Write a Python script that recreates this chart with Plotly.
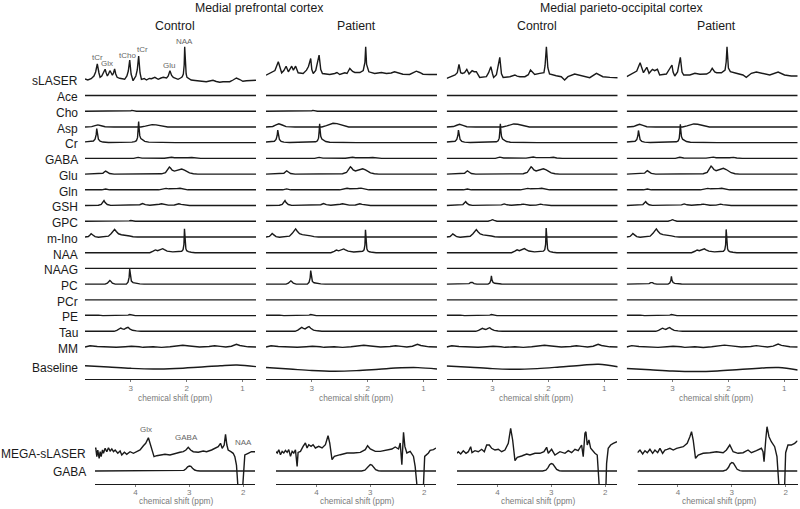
import plotly.graph_objects as go

# ---------------- data ----------------
REGION_TITLES = ["Medial prefrontal cortex", "Medial parieto-occipital cortex"]
PANEL_TITLES = ["Control", "Patient", "Control", "Patient"]
ROW_LABELS = ["sLASER", "Ace", "Cho", "Asp", "Cr", "GABA", "Glu", "Gln", "GSH", "GPC",
              "m-Ino", "NAA", "NAAG", "PC", "PCr", "PE", "Tau", "MM", "Baseline"]
BOTTOM_LABELS = ["MEGA-sLASER", "GABA"]
TOP_TICKS = [3, 2, 1]
BOTTOM_TICKS = [4, 3, 2]
X_TITLE = "chemical shift (ppm)"
TOP_PEAK_LABELS = [("tCr", 3.60, 58), ("Glx", 3.43, 63), ("tCho", 3.06, 55),
                   ("tCr", 2.80, 49), ("Glu", 2.32, 65), ("NAA", 2.04, 42)]
BOTTOM_PEAK_LABELS = [("Glx", 3.81, 429), ("GABA", 3.05, 437), ("NAA", 2.0, 442)]

# basis spectra (ppm, relative intensity)
ACE = [(3.82, 0), (1.95, 0), (1.92, 0.3), (1.89, 0), (0.76, 0)]
CHO = [(3.82, 0), (3.06, 0), (3.0, 0.5), (2.98, 0.8), (2.96, 0.5), (2.9, 0), (0.76, 0)]
ASP = [(3.82, 0), (3.70, 0.3), (3.64, 1.3), (3.59, 2), (3.53, 1.2), (3.46, 0.2), (3.3, 0),
       (2.82, 0), (2.74, 0.8), (2.68, 1.8), (2.62, 2.3), (2.55, 2.1), (2.48, 1.5),
       (2.40, 0.5), (2.34, 0), (0.76, 0)]
CR = [(3.82, 0.8), (3.72, 0.9), (3.67, 1.6), (3.64, 3.5), (3.62, 8), (3.61, 14), (3.60, 9),
      (3.58, 3.5), (3.55, 1.5), (3.50, 0.6), (3.40, 0.2), (3.10, 0.2), (2.98, 0.5),
      (2.93, 1), (2.90, 2), (2.88, 5), (2.87, 12), (2.86, 21), (2.85, 13), (2.84, 7),
      (2.82, 4), (2.79, 2.5), (2.75, 1.3), (2.68, 0.5), (2.5, 0.1), (2.2, 0), (0.76, 0)]
GABA = [(3.82, 0), (2.95, 0), (2.87, 1), (2.80, 0.3), (2.40, 0.2), (2.32, 0.8), (2.27, 1.1),
        (2.22, 0.6), (2.10, 0.3), (1.98, 0.6), (1.91, 0.9), (1.85, 0.3), (1.75, 0), (0.76, 0)]
GLU = [(3.82, 0), (3.55, 0.2), (3.50, 0.8), (3.47, 2.3), (3.45, 3), (3.42, 2), (3.38, 0.6),
       (3.30, 0), (2.45, 0.3), (2.38, 1.5), (2.34, 4.5), (2.31, 7), (2.29, 6), (2.26, 4),
       (2.22, 3), (2.18, 3.6), (2.13, 4.8), (2.09, 5), (2.04, 4), (2.0, 2.5), (1.95, 1.2),
       (1.88, 0.3), (1.8, 0), (0.76, 0)]
GLN = [(3.82, 0), (3.52, 0), (3.45, 0.8), (3.38, 0), (2.5, 0), (2.42, 0.8), (2.37, 1.4),
       (2.32, 1.0), (2.25, 0.9), (2.18, 1.2), (2.12, 1.5), (2.06, 0.8), (1.98, 0), (0.76, 0)]
GSH = [(3.82, 0), (3.58, 0.3), (3.53, 1.2), (3.50, 3.5), (3.48, 5), (3.46, 3), (3.42, 1),
       (3.36, 0.2), (2.90, 0.1), (2.84, 0.8), (2.79, 2), (2.74, 0.9), (2.66, 0.3),
       (2.55, 0.5), (2.49, 1.3), (2.45, 1.8), (2.41, 1.2), (2.33, 0.4), (2.22, 0.5),
       (2.17, 1.4), (2.14, 1.8), (2.10, 1.2), (2.03, 0.3), (1.95, 0), (0.76, 0)]
GPC = [(3.82, 0), (3.08, 0), (3.03, 0.4), (3.0, 0.8), (2.97, 0.4), (2.92, 0), (0.76, 0)]
MINO = [(3.82, 0), (3.76, 0.5), (3.73, 2), (3.71, 3.3), (3.68, 2), (3.64, 0.3), (3.58, -0.3),
        (3.46, 0), (3.40, 0.8), (3.35, 3.5), (3.31, 6.5), (3.29, 7.7), (3.26, 5.5),
        (3.22, 3.2), (3.17, 2.2), (3.12, 1.8), (3.07, 2.1), (3.02, 1), (2.96, 0.3),
        (2.88, 0), (0.76, 0)]
NAA = [(3.82, 0), (2.66, 0), (2.60, 1.5), (2.56, 2.8), (2.52, 2), (2.48, 3), (2.45, 3.8),
       (2.43, 4), (2.40, 3), (2.35, 1.6), (2.25, 0.8), (2.15, 0.9), (2.09, 1.5),
       (2.065, 3), (2.05, 8), (2.04, 24), (2.03, 10), (2.015, 4), (2.0, 2), (1.97, 1),
       (1.92, 0.4), (1.85, 0), (0.76, 0)]
NAAG = [(3.82, 0), (2.1, 0), (2.04, 0.5), (1.98, 0), (0.76, 0)]
PC = [(3.82, 0), (3.46, 0), (3.42, 1), (3.39, 3), (3.375, 3.7), (3.36, 3), (3.33, 1),
      (3.28, 0), (3.08, 0), (3.05, 2), (3.03, 7), (3.02, 15), (3.01, 8), (2.99, 3),
      (2.96, 1.5), (2.91, 0.7), (2.84, 0.3), (2.76, 0), (0.76, 0)]
PCR = [(3.82, 0), (0.76, 0)]
PE = [(3.82, 0.3), (3.75, 0.5), (3.68, 0.8), (3.64, 1), (3.58, 0.5), (3.5, 0), (3.1, 0),
      (3.05, 0.5), (3.02, 1), (2.98, 0.5), (2.92, 0), (0.76, 0)]
TAU = [(3.82, 0), (3.30, 0), (3.25, 1), (3.21, 2.6), (3.18, 3.3), (3.15, 2.5), (3.12, 2),
       (3.08, 3.3), (3.05, 4), (3.02, 2.5), (2.97, 1), (2.90, 0.4), (2.82, 0), (0.76, 0)]
MM = [(3.82, 0), (3.73, 1.3), (3.6, 0.5), (3.45, 0.2), (3.26, -0.3), (3.1, 0.3), (2.99, 0.7),
      (2.85, 0.2), (2.78, -0.3), (2.6, 0.2), (2.45, -0.4), (2.3, 0.3), (2.15, 1.0),
      (2.07, 1.7), (1.95, 1.0), (1.77, 0), (1.6, 0.5), (1.5, 1.3), (1.4, 0.6), (1.3, 0),
      (1.2, 0.8), (1.11, 2.7), (1.05, 1.5), (0.99, 0.8), (0.9, 0.2), (0.76, 0)]
BASIS = [ACE, CHO, ASP, CR, GABA, GLU, GLN, GSH, GPC, MINO, NAA, NAAG, PC, PCR, PE, TAU, MM]

# fitted amplitudes per panel (relative to the control mPFC fit)
CONC_MPFC_CONTROL = [1, 1, 1, 1, 1, 1, 1, 1, 1, 1, 1, 1, 1, 1, 1, 1, 1]
CONC_MPFC_PATIENT = [1, 1, 1.6, 0.9, 1, 1.05, 1.1, 1.0, 0.5, 1.05, 0.95, 1, 0.9, 1, 1, 1.2, 1]
CONC_MPOC_CONTROL = [1, 0.4, 1.3, 0.9, 1.2, 1.05, 1, 0.8, 2, 0.95, 1.03, 1, 0.55, 1, 1, 0.9, 1]
CONC_MPOC_PATIENT = [1, 0.4, 1.3, 0.87, 1.1, 1.15, 1, 0.8, 2, 1.05, 0.97, 1, 0.52, 1, 1, 0.95, 1.1]
CONCS = [CONC_MPFC_CONTROL, CONC_MPFC_PATIENT, CONC_MPOC_CONTROL, CONC_MPOC_PATIENT]

# baseline curves per panel
BASELINE_PPM = [3.82, 3.4, 3.0, 2.6, 2.2, 1.8, 1.4, 1.1, 0.76]
BASELINE_MPFC_CONTROL = [0.3, -1.0, -2.3, -3.0, -2.5, -1.2, 0.3, 1.0, -0.6]
BASELINE_MPFC_PATIENT = [-1.5, -3.0, -4.5, -5.2, -4.6, -3.2, -1.8, -1.6, -3.0]
BASELINE_MPOC_CONTROL = [0.0, -1.2, -2.6, -3.3, -2.6, -1.0, 0.8, 1.7, -0.7]
BASELINE_MPOC_PATIENT = [-2.5, -3.8, -5.0, -5.5, -5.0, -3.5, -2.0, -1.5, -4.0]
BASELINES = [BASELINE_MPFC_CONTROL, BASELINE_MPFC_PATIENT, BASELINE_MPOC_CONTROL, BASELINE_MPOC_PATIENT]

# measured sLASER spectra (ppm, intensity)
SLASER_MPFC_CONTROL = [
    (3.82, 0), (3.77, -1), (3.71, 0.3), (3.66, 3), (3.63, 7), (3.60, 15), (3.57, 6), (3.55, 1.7),
    (3.52, 3), (3.49, 6), (3.46, 9.7), (3.44, 6), (3.42, 3), (3.40, 5), (3.375, 8.3), (3.35, 6),
    (3.33, 3.7), (3.31, 6), (3.29, 10), (3.27, 5), (3.245, 1.7), (3.20, 0.7), (3.15, 0.2),
    (3.11, -0.3), (3.07, 3), (3.045, 8), (3.02, 19), (2.995, 5), (2.96, -1.7), (2.91, 3),
    (2.885, 9), (2.86, 23), (2.835, 6), (2.81, -0.3), (2.76, 0.5), (2.72, -1), (2.67, 0.5),
    (2.63, 0.3), (2.57, 1.7), (2.51, -0.3), (2.46, 1.0), (2.42, 1.7), (2.36, 1), (2.33, 3),
    (2.30, 8.3), (2.27, 3.5), (2.24, 1.7), (2.2, 0.5), (2.155, -0.3), (2.11, 1), (2.08, 2.3),
    (2.06, 5), (2.045, 14), (2.036, 32.3), (2.025, 14), (2.01, 5), (1.995, 1.7), (1.96, 0),
    (1.92, -1), (1.85, -1.5), (1.77, -2), (1.71, -2.2), (1.65, -2.7), (1.59, -2), (1.53, -1.3),
    (1.47, -2.5), (1.41, -3.3), (1.35, -2.8), (1.29, -3), (1.23, -2.7), (1.17, -1), (1.11, 1),
    (1.05, -0.5), (0.995, -2.3), (0.93, -1.8), (0.86, -1.5), (0.76, -1.3)]
SLASER_MPFC_PATIENT = [
    (3.82, -0.7), (3.75, 1), (3.70, 2.7), (3.66, 4), (3.60, 12.7), (3.54, 1.7), (3.50, 4),
    (3.46, 8.3), (3.42, 2.7), (3.36, 8.3), (3.33, 4.3), (3.29, 8.3), (3.245, 1.7), (3.155, 1),
    (3.095, 4.3), (3.06, 8), (3.02, 16), (3.0, 5), (2.975, 1), (2.93, 4), (2.87, 19.3),
    (2.84, 5), (2.81, 1), (2.68, 0), (2.59, 1), (2.55, 2), (2.50, 0), (2.41, 1.7), (2.37, 1),
    (2.32, 6), (2.27, 3), (2.23, 2), (2.14, 2), (2.08, 4), (2.05, 12), (2.036, 27.7), (2.02, 10),
    (1.98, 2.7), (1.875, 1), (1.755, 2), (1.665, 1), (1.58, 1.5), (1.52, 2.7), (1.44, 1.5),
    (1.37, 0.3), (1.25, 0), (1.13, 3.3), (1.07, 2), (1.01, 0.3), (0.89, 0), (0.76, 0)]
SLASER_MPOC_CONTROL = [
    (3.82, -0.7), (3.73, 1), (3.67, 2.7), (3.63, 5), (3.60, 13.3), (3.57, 5), (3.54, 4.3),
    (3.50, 5), (3.46, 8.3), (3.42, 3.7), (3.365, 7), (3.33, 6), (3.29, 6), (3.23, 0.3),
    (3.17, 0.5), (3.11, 1), (3.07, 5), (3.03, 11), (3.0, 4), (2.98, 0.3), (2.93, 3),
    (2.87, 20.3), (2.84, 4), (2.81, 0.3), (2.69, 1), (2.60, 2.7), (2.56, 1.5), (2.51, 1),
    (2.42, 1), (2.36, 3), (2.32, 7.7), (2.27, 4), (2.245, 3.3), (2.155, 4.3), (2.08, 5),
    (2.06, 12), (2.036, 31), (2.01, 10), (1.98, 3.7), (1.86, 2), (1.77, 1), (1.71, -2.3),
    (1.65, 1), (1.53, 3.7), (1.45, 2.5), (1.38, 1.7), (1.26, 0), (1.14, 4.3), (1.025, 1),
    (0.90, 0.3), (0.76, 0)]
SLASER_MPOC_PATIENT = [
    (3.82, -0.7), (3.76, 1), (3.70, 2.7), (3.64, 5), (3.58, 13.3), (3.52, 3.3), (3.46, 8.7),
    (3.42, 2.7), (3.36, 6.7), (3.32, 5.3), (3.27, 6.7), (3.23, 1), (3.11, 2), (3.06, 6),
    (3.01, 11), (2.99, 4), (2.96, 0), (2.91, 4), (2.86, 18.7), (2.83, 4), (2.80, 1), (2.69, 1),
    (2.60, 2.7), (2.51, 1.7), (2.39, 2), (2.33, 4), (2.29, 7.7), (2.245, 4), (2.21, 3.3),
    (2.125, 3.3), (2.06, 6), (2.04, 14), (2.025, 29.3), (2.0, 8), (1.965, 4.3), (1.86, 2.7),
    (1.74, 1), (1.68, -1.3), (1.59, 2.7), (1.50, 4), (1.38, 2.7), (1.26, 1), (1.11, 4),
    (0.995, 1), (0.875, 0), (0.76, 0)]
SLASERS = [SLASER_MPFC_CONTROL, SLASER_MPFC_PATIENT, SLASER_MPOC_CONTROL, SLASER_MPOC_PATIENT]

# measured MEGA-sLASER difference spectra (ppm, intensity)
MEGA_MPFC_CONTROL = [
    (4.75, 4.7), (4.735, 4.7), (4.716, -3.7), (4.698, 3), (4.673, -5.3), (4.654, 1.3),
    (4.636, -3.7), (4.611, 3), (4.593, -0.3), (4.562, 4.7), (4.531, 1.3), (4.5, 5.3),
    (4.469, 2), (4.438, 4), (4.407, 1.3), (4.376, 3), (4.327, -0.3), (4.284, 2), (4.253, -2),
    (4.204, 0.7), (4.161, -1.3), (4.099, 1.3), (4.037, -0.3), (3.975, 1.3), (3.914, 3),
    (3.852, 7.3), (3.809, 9.7), (3.759, 15.3), (3.728, 9.7), (3.698, 3), (3.654, -3.7),
    (3.605, -2.7), (3.543, -2), (3.451, -1.3), (3.358, -2), (3.265, -0.3), (3.173, 0.7),
    (3.111, 1.3), (3.062, 3), (3.019, 5.7), (2.975, 3), (2.926, 1.3), (2.833, 0.7),
    (2.741, 2), (2.679, 1.3), (2.586, 3), (2.525, 4.7), (2.463, 6.3), (2.42, 9.7),
    (2.389, 4.7), (2.352, 8), (2.327, 18.7), (2.302, 8), (2.278, 3), (2.228, 1.3),
    (2.185, -0.3), (2.154, -3.7), (2.124, -12), (2.10, -31), (2.05, -100), (2.005, -31),
    (1.985, -8), (1.969, -2), (1.907, -0.3), (1.846, 1.3), (1.78, 1.3)]
MEGA_MPFC_PATIENT = [
    (4.759, 1.6), (4.728, 0), (4.698, 3.3), (4.667, -1.7), (4.636, 1.6), (4.605, 0),
    (4.574, 2.6), (4.543, 0.6), (4.513, 3.3), (4.481, -3.4), (4.45, 1.6), (4.42, 0),
    (4.389, 3.3), (4.358, -13.4), (4.34, 0.6), (4.296, 1.6), (4.247, 6.6), (4.204, 10),
    (4.173, 5), (4.142, 8.3), (4.099, 6.6), (4.062, 8.3), (4.019, 5), (3.957, 6.6),
    (3.895, 5), (3.833, 8.3), (3.784, 17.3), (3.753, 10), (3.71, -6.7), (3.667, -3.4),
    (3.556, -1.7), (3.432, 0), (3.309, 0), (3.185, 0.6), (3.093, 3.3), (3.05, 7.3), (3.0, 4),
    (2.907, 1.6), (2.815, 1.6), (2.691, 2.6), (2.599, 4), (2.537, 6), (2.475, 4), (2.444, 10),
    (2.414, -11.7), (2.383, 20.6), (2.358, 6.6), (2.321, 0), (2.259, 1.6), (2.198, -3.4),
    (2.167, -13.4), (2.136, -31), (2.08, -100), (2.012, -31), (1.99, -3.4), (1.92, 0),
    (1.889, 2.6), (1.827, 3.3), (1.78, 5)]
MEGA_MPOC_CONTROL = [
    (4.75, -0.3), (4.726, 1.3), (4.681, -1), (4.633, 2.3), (4.583, -0.3), (4.54, 1.3),
    (4.496, 6.3), (4.472, 0.3), (4.416, 2.3), (4.355, 1.3), (4.292, 3.7), (4.243, 1.3),
    (4.199, 8), (4.15, 8), (4.106, 4.7), (4.045, 3), (3.984, 3.7), (3.921, 1.3), (3.86, 3),
    (3.798, 9.7), (3.754, 24.7), (3.717, 13), (3.674, -7.7), (3.631, -4.3), (3.55, -3),
    (3.457, -1), (3.396, -2), (3.303, -0.3), (3.21, -0.3), (3.136, 1.3), (3.086, 5.7),
    (3.056, -0.3), (2.994, 3.7), (2.932, -2), (2.839, 1.3), (2.746, -0.3), (2.685, 2.3),
    (2.622, 0.3), (2.561, 3.7), (2.5, 2.3), (2.437, 8), (2.407, -3.7), (2.375, 19.7),
    (2.357, 21.3), (2.332, 8), (2.301, 13), (2.269, 4.7), (2.221, 1.3), (2.19, -0.3),
    (2.147, -2), (2.11, -17), (2.084, -32), (2.03, -100), (1.985, -32), (1.973, -10.3),
    (1.943, 4.7), (1.898, 8), (1.85, 9.7), (1.78, 11.3)]
MEGA_MPOC_PATIENT = [
    (4.753, 0.3), (4.704, 3), (4.654, -1), (4.611, 2.3), (4.568, 0.3), (4.519, 3.7),
    (4.469, -0.3), (4.426, 3), (4.376, 0.3), (4.333, 4.7), (4.284, -0.3), (4.241, 3),
    (4.198, 3.7), (4.148, 4.7), (4.086, 3), (4.025, 4.7), (3.901, 6.3), (3.827, 9.7),
    (3.778, 16.3), (3.747, 21.3), (3.716, 13), (3.673, -5.3), (3.623, -2), (3.531, -0.3),
    (3.407, 0.3), (3.284, 1.3), (3.160, 0.3), (3.099, 3), (3.037, 8), (2.975, 1.3),
    (2.883, -0.3), (2.79, 0.3), (2.698, 3), (2.636, 0.3), (2.543, 2.3), (2.45, 4.7),
    (2.420, 1.3), (2.401, -8.7), (2.370, 13), (2.346, 26.3), (2.309, 16.3), (2.266, 11.3),
    (2.204, 6.3), (2.161, -3.7), (2.124, -33.7), (2.07, -100), (2.019, -33.7), (2.0, 0.3),
    (1.957, 8), (1.895, 8), (1.833, 9.7), (1.78, 12.3)]
MEGAS = [MEGA_MPFC_CONTROL, MEGA_MPFC_PATIENT, MEGA_MPOC_CONTROL, MEGA_MPOC_PATIENT]

# GABA fit component of the edited spectra
GABA_EDIT = [(4.75, 0), (3.16, 0), (3.10, 0.6), (3.06, 2.2), (3.03, 4.2), (3.0, 5), (2.97, 4.6),
             (2.94, 2.8), (2.90, 1), (2.85, 0.2), (2.8, 0), (1.78, 0)]
GABA_EDIT_CONC = [1, 1.3, 1.5, 1.7]

# ---------------- layout (pixels) ----------------
W, H = 800, 509
TOP_LEFT = [85, 266, 446.7, 626.7]
TOP_W = 171
BOT_LEFT = [95, 276, 457, 637.5]
BOT_W = 160
TOP_RANGE = [3.82, 0.76]
BOT_RANGE = [4.75, 1.78]
SLASER_Y = [79, 74.5, 77.7, 76]
ROW0_Y, ROW_STEP = 95.5, 15.72
BASELINE_Y = 366
TOP_AXIS_Y, TOP_DOM_TOP = 378.5, 30
MEGA_Y, GABA_Y = 453, 471
BOT_AXIS_Y, BOT_DOM_TOP = 484, 418
FONT = "Liberation Sans, Arial, sans-serif"
INK = "#1a1a1a"
GREY = "#7a7a7a"
LW = 1.4


def px(x):
    return x / W


def py(y):
    return 1 - y / H


fig = go.Figure()


def add_line(pts, xa, ya, y0, scale=1.0, shape="linear"):
    xs = [p for p, _ in pts]
    ys = [-y0 + scale * v for _, v in pts]
    fig.add_trace(go.Scatter(x=xs, y=ys, xaxis=xa, yaxis=ya, mode="lines",
                             line=dict(color=INK, width=LW, shape=shape),
                             hoverinfo="skip", showlegend=False))


for p in range(4):
    xa_top = "x%d" % (p + 1)
    xa_bot = "x%d" % (p + 5)
    add_line(SLASERS[p], xa_top, "y", SLASER_Y[p])
    for i, basis in enumerate(BASIS):
        add_line(basis, xa_top, "y", ROW0_Y + i * ROW_STEP, CONCS[p][i])
    add_line(list(zip(BASELINE_PPM, BASELINES[p])), xa_top, "y", BASELINE_Y, shape="spline")
    add_line(MEGAS[p], xa_bot, "y2", MEGA_Y)
    add_line(GABA_EDIT, xa_bot, "y2", GABA_Y, GABA_EDIT_CONC[p])

axis_common = dict(showgrid=False, zeroline=False, showline=True, linecolor=INK,
                   linewidth=1.4, ticks="outside", ticklen=2, tickcolor=GREY,
                   tickwidth=0.8, tickfont=dict(size=8, color=GREY, family=FONT),
                   fixedrange=True)
layout = dict(
    width=W, height=H, margin=dict(l=0, r=0, t=0, b=0), autosize=False,
    paper_bgcolor="white", plot_bgcolor="white", font=dict(family=FONT, color=INK),
    yaxis=dict(domain=[py(TOP_AXIS_Y), py(TOP_DOM_TOP)], range=[-TOP_AXIS_Y, -TOP_DOM_TOP],
               visible=False, fixedrange=True),
    yaxis2=dict(domain=[py(BOT_AXIS_Y), py(BOT_DOM_TOP)], range=[-BOT_AXIS_Y, -BOT_DOM_TOP],
                visible=False, fixedrange=True),
)
for p in range(4):
    layout["xaxis%d" % (p + 1)] = dict(axis_common, anchor="y",
                                       domain=[px(TOP_LEFT[p]), px(TOP_LEFT[p] + TOP_W)],
                                       range=TOP_RANGE, tickvals=TOP_TICKS)
    layout["xaxis%d" % (p + 5)] = dict(axis_common, anchor="y2",
                                       domain=[px(BOT_LEFT[p]), px(BOT_LEFT[p] + BOT_W)],
                                       range=BOT_RANGE, tickvals=BOTTOM_TICKS,
                                       ticklabelstandoff=-2)
fig.update_layout(**layout)

ann = []


def text(x, y, s, size=12, color=INK, xanchor="center"):
    ann.append(dict(x=px(x), y=py(y), xref="paper", yref="paper", text=s, showarrow=False,
                    xanchor=xanchor, yanchor="middle",
                    font=dict(size=size, color=color, family=FONT)))


text(259, 8, REGION_TITLES[0], 12.3)
text(622, 8, REGION_TITLES[1], 12.3)
for p in range(4):
    text(TOP_LEFT[p] + 90, 26, PANEL_TITLES[p], 12.3)
    text(TOP_LEFT[p] + TOP_W / 2 + 4, 397.5, X_TITLE, 8.3, GREY)
    text(BOT_LEFT[p] + BOT_W / 2 + 1, 500.5, X_TITLE, 8.3, GREY)

row_ys = [SLASER_Y[0]] + [ROW0_Y + i * ROW_STEP for i in range(len(BASIS))] + [BASELINE_Y]
for lab, ry in zip(ROW_LABELS, row_ys):
    text(80, ry + 1.8, lab, 12, INK, "right")
text(88, MEGA_Y + 1, BOTTOM_LABELS[0], 12, INK, "right")
text(88, GABA_Y + 1, BOTTOM_LABELS[1], 12, INK, "right")

x_top = TOP_LEFT[0]
for lab, ppm, y in TOP_PEAK_LABELS:
    xpix = x_top + (TOP_RANGE[0] - ppm) / (TOP_RANGE[0] - TOP_RANGE[1]) * TOP_W
    text(xpix, y, lab, 8, "#666666")
for lab, ppm, y in BOTTOM_PEAK_LABELS:
    xpix = BOT_LEFT[0] + (BOT_RANGE[0] - ppm) / (BOT_RANGE[0] - BOT_RANGE[1]) * BOT_W
    text(xpix, y, lab, 8, "#666666")

fig.update_layout(annotations=ann)
fig.write_html("out.html", config={"displayModeBar": False},
               post_script="document.body.style.margin='0px';document.body.style.overflow='hidden';")
